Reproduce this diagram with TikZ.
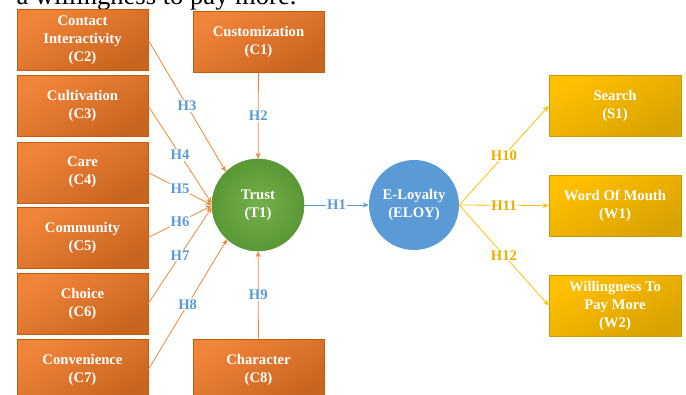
\documentclass[tikz,border=0pt]{standalone}
\usepackage{fontspec}
\setmainfont{Liberation Serif}
\usetikzlibrary{arrows.meta}

\definecolor{orL}{HTML}{F08539}
\definecolor{orD}{HTML}{C9641E}
\definecolor{orE}{HTML}{C55A11}
\definecolor{yeL}{HTML}{FFC000}
\definecolor{yeD}{HTML}{D9A200}
\definecolor{yeE}{HTML}{CC9A00}
\definecolor{grL}{HTML}{74B04A}
\definecolor{grD}{HTML}{5A9835}
\definecolor{blC}{HTML}{5B9BD5}
\definecolor{hblue}{HTML}{5B9BD5}
\definecolor{hgold}{HTML}{E8AE00}

\begin{document}
\begin{tikzpicture}[x=1pt,y=-1pt,
  every node/.style={font=\fontsize{14.7}{18}\selectfont\bfseries, text=white, align=center},
  cbox/.style={draw=orE, line width=0.6pt, top color=orL, bottom color=orD, shading angle=30,
    minimum width=131pt, minimum height=61pt, inner sep=0pt},
  obox/.style={draw=yeE, line width=0.6pt, top color=yeL, bottom color=yeD, shading angle=30,
    minimum width=132pt, minimum height=61pt, inner sep=0pt},
  hyp/.style={-{Stealth[length=6pt,width=5pt]}, line width=0.8pt},
  hlab/.style={fill=white, inner sep=1pt, text=hblue},
  glab/.style={fill=white, inner sep=1pt, text=hgold}]
  \useasboundingbox (0,0) rectangle (686,394);
  \clip (0,0) rectangle (686,394);

  \node[anchor=base west, text=black, font=\fontsize{26.6}{30}\selectfont] (cap) at (13,4) {a willingness to pay more.};

  \node[cbox] (c2) at (82.5,40) {Contact\\Interactivity\\(C2)};
  \node[cbox] (c1) at (258.5,42) {Customization\\(C1)};
  \node[cbox] (c3) at (82.5,106) {Cultivation\\(C3)};
  \node[cbox] (c4) at (82.5,172.5) {Care\\(C4)};
  \node[cbox] (c5) at (82.5,237.5) {Community\\(C5)};
  \node[cbox] (c6) at (82.5,303.5) {Choice\\(C6)};
  \node[cbox] (c7) at (82.5,369.5) {Convenience\\(C7)};
  \node[cbox] (c8) at (258.5,369.5) {Character\\(C8)};

  \node[circle, draw=grD, line width=0.6pt, inner color=grL, outer color=grD,
    minimum size=92pt] (t1) at (258,205) {Trust\\(T1)};
  \node[circle, fill=blC, minimum size=90pt] (eloy) at (414,205) {E-Loyalty\\(ELOY)};

  \node[obox] (s1) at (615,106) {Search\\(S1)};
  \node[obox] (w1) at (615,205.5) {Word Of Mouth\\(W1)};
  \node[obox] (w2) at (615,305.5) {Willingness To\\Pay More\\(W2)};

  \draw[hyp, orL] (c1) -- node[hlab] {H2} (t1);
  \draw[hyp, orL] (c2.east) -- node[hlab] {H3} (t1.134);
  \draw[hyp, orL] (c3.east) -- node[hlab] {H4} (t1.178);
  \draw[hyp, orL] (c4.east) -- node[hlab] {H5} (t1.180);
  \draw[hyp, orL] (c5.east) -- node[hlab] {H6} (t1.181);
  \draw[hyp, orL] (c6.east) -- node[hlab] {H7} (t1.183);
  \draw[hyp, orL] (c7.east) -- node[hlab] {H8} (t1.228);
  \draw[hyp, orL] (c8) -- node[hlab] {H9} (t1);

  \draw[hyp, blC] (t1) -- node[hlab] {H1} (eloy);

  \draw[hyp, yeL] (eloy.east) -- node[glab] {H10} (s1.west);
  \draw[hyp, yeL] (eloy.east) -- node[glab] {H11} (w1.west);
  \draw[hyp, yeL] (eloy.east) -- node[glab] {H12} (w2.west);
\end{tikzpicture}
\end{document}
